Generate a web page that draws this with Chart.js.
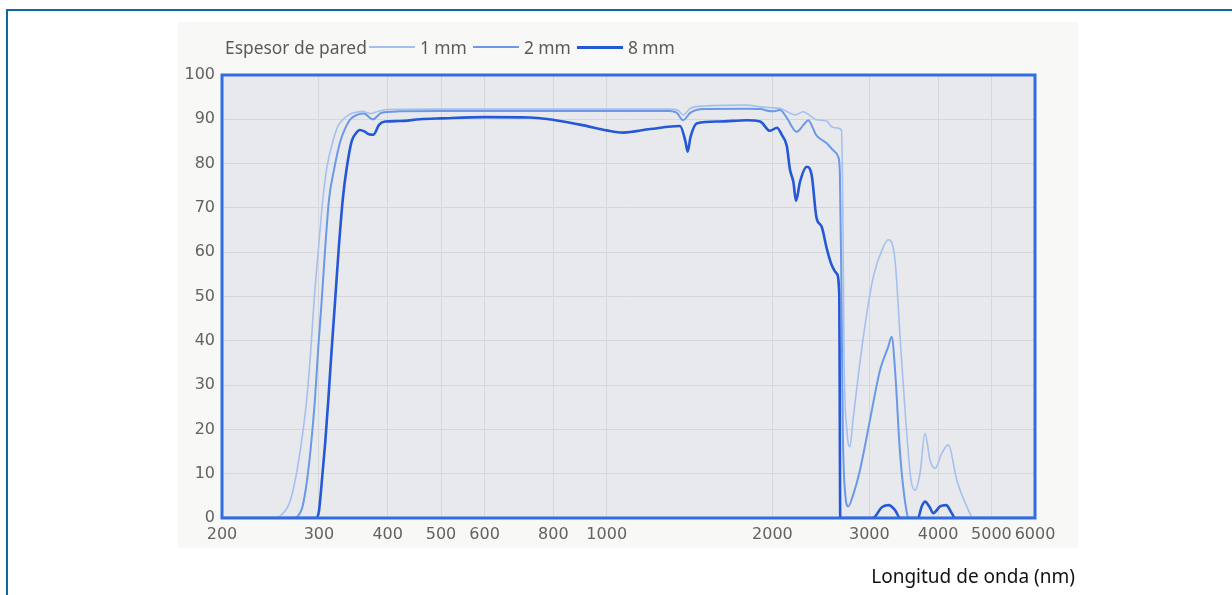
<!DOCTYPE html>
<html>
<head>
<meta charset="utf-8">
<script src="https://cdn.jsdelivr.net/npm/chart.js@4/dist/chart.umd.min.js"></script>
<style>
  html, body { margin:0; padding:0; background:#fff; }
  body { width:1232px; height:595px; position:relative; overflow:hidden; }
  #frame { position:absolute; left:6px; top:9px; width:1400px; height:800px;
           border-top:2px solid #0b6a99; border-left:2px solid #0b6a99; }
  #img { position:absolute; left:178px; top:22px; width:900px; height:526px; background:#f8f8f7; }
  #c { position:absolute; left:0; top:0; }
  #legend { position:absolute; left:225px; top:36px; height:22px; display:flex; align-items:center;
            font-family:"Noto Sans", sans-serif; font-size:17.4px; color:#5a5a5a; white-space:nowrap; }
  #legend .sw { display:inline-block; width:46px; margin:0 5px 0 2px; }
  #legend .lab { margin-right:4px; }
  #xtitle { position:absolute; right:157px; top:563px; font-family:"Noto Sans", sans-serif;
            font-size:19px; color:#111; white-space:nowrap; }
</style>
</head>
<body>
<div id="frame"></div>
<div id="img"></div>
<canvas id="c" width="1232" height="595"></canvas>
<div id="legend"></div>
<div id="xtitle">Longitud de onda (nm)</div>
<script>
// ---- data ----
const seriesLabels = ["1 mm", "2 mm", "8 mm"];
const legendTitle = "Espesor de pared";
const xTitle = "Longitud de onda (nm)";
const xTickValues = [200, 300, 400, 500, 600, 800, 1000, 2000, 3000, 4000, 5000, 6000];

const wl1 = [200, 245, 255, 265, 271, 278, 285, 290, 294, 300, 305, 310, 318, 325, 332, 340, 346, 360, 372, 385, 400, 500, 700, 1000, 1300, 1350, 1376, 1420, 1500, 1800, 1900, 2000, 2065, 2150, 2200, 2276, 2330, 2406, 2510, 2563, 2635, 2670, 2685, 2700, 2730, 2767, 2802, 2926, 3051, 3181, 3248, 3341, 3412, 3494, 3571, 3631, 3709, 3787, 3867, 3949, 4062, 4176, 4325, 4511, 4635, 6000];
const t1  = [0, 0, 0.5, 3.3, 7.9, 16, 26.6, 38, 49, 62, 72, 79, 85, 88.5, 90, 91, 91.4, 91.8, 91.3, 91.8, 92.2, 92.3, 92.3, 92.3, 92.3, 92, 91, 92.5, 93, 93.2, 92.8, 92.6, 92.5, 91.4, 91, 91.7, 91, 89.9, 89.6, 88.3, 88, 87.5, 70, 35, 20, 16.1, 22.1, 40.9, 54.5, 61.2, 62.8, 58.2, 40.9, 22.1, 8.6, 6.3, 10.1, 19.1, 13.1, 11.2, 14.6, 16.5, 8.6, 2.6, 0, 0];

const wl2 = [200, 270, 275, 280, 285, 290, 295, 299, 303.5, 308, 313, 320, 328, 335, 342, 352, 362, 376, 390, 420, 500, 1000, 1300, 1340, 1376, 1420, 1500, 1800, 1900, 2000, 2065, 2120, 2214, 2280, 2324, 2370, 2400, 2470, 2510, 2580, 2635, 2652, 2668, 2685, 2710, 2747, 2800, 2885, 3008, 3138, 3248, 3294, 3341, 3412, 3510, 3540, 6000];
const t2  = [0, 0, 0.5, 2.5, 7.9, 16, 26.6, 38, 49, 61, 72, 79, 85, 88, 90, 91, 91.3, 90, 91.5, 91.8, 91.9, 91.9, 91.9, 91.5, 89.8, 91.5, 92.3, 92.4, 92.3, 91.8, 92.1, 90.5, 87.2, 88.8, 89.8, 88, 86.5, 85.2, 84.6, 83, 81.5, 78, 55, 20, 6, 2.6, 5, 10.8, 22.1, 33.4, 38.7, 40.9, 33.4, 14.6, 1.1, 0, 0];

const wl8 = [200, 297, 300, 303.5, 308, 312, 316, 321, 326, 331.5, 337, 344, 350, 356, 363.6, 370, 376.5, 386, 395.6, 420, 458, 500, 600, 725, 894, 1000, 1071, 1200, 1359, 1390, 1403, 1420, 1459, 1600, 1798, 1900, 1980, 2039, 2080, 2124, 2153, 2183, 2208, 2245, 2308, 2357, 2406, 2457, 2510, 2563, 2617, 2646, 2652, 2656, 3040, 3072, 3159, 3248, 3341, 3412, 3677, 3735, 3787, 3860, 3921, 4033, 4136, 4235, 4294, 6000];
const t8  = [0, 0, 1.5, 7.9, 17, 26.6, 37, 49, 61, 72, 79, 85, 86.8, 87.6, 87.2, 86.6, 86.5, 88.8, 89.5, 89.6, 90, 90.2, 90.5, 90.4, 88.8, 87.5, 87, 87.8, 88.5, 85, 82.7, 86, 89.1, 89.5, 89.8, 89.5, 87.4, 88.1, 86.5, 84, 78.6, 75.9, 71.6, 75.9, 79.3, 77.4, 67.7, 65.8, 60.9, 57.1, 55.2, 50.3, 20, 0, 0, 0.3, 2.4, 2.9, 1.8, 0, 0, 2.6, 3.7, 2.5, 1.1, 2.6, 2.9, 1.1, 0, 0];

// ---- styles ----
const colors = ["#a5c0f0", "#6b98e7", "#2558d6"];
const widths = [1.6, 2, 2.6];
const legendWidths = [2, 2, 3];
const plotBg = "#e8e9ec";
const gridCol = "#d6d7da";
const frameBlue = "#326ce2";
const tickFont = { family: "DejaVu Sans", size: 16 };
const tickCol = "#626262";

const toPts = (xs, ys) => xs.map((x, i) => ({ x: x, y: ys[i] }));
const seriesData = [toPts(wl1, t1), toPts(wl2, t2), toPts(wl8, t8)];

// legend (HTML text)
const lg = document.getElementById('legend');
const tt = document.createElement('span'); tt.textContent = legendTitle; lg.appendChild(tt);
seriesLabels.forEach((lab, i) => {
  const sw = document.createElement('span'); sw.className = 'sw';
  sw.style.height = legendWidths[i] + 'px'; sw.style.background = colors[i]; lg.appendChild(sw);
  const s = document.createElement('span'); s.className = 'lab'; s.textContent = lab; lg.appendChild(s);
});
document.getElementById('xtitle').textContent = xTitle;

const bgPlugin = {
  id: 'bgPlugin',
  beforeDraw(chart) {
    const { ctx, chartArea: a } = chart;
    ctx.save(); ctx.fillStyle = plotBg; ctx.fillRect(a.left, a.top, a.right - a.left, a.bottom - a.top); ctx.restore();
  },
  afterDraw(chart) {
    const { ctx, chartArea: a } = chart;
    ctx.save(); ctx.strokeStyle = frameBlue; ctx.lineWidth = 3;
    ctx.strokeRect(a.left, a.top, a.right - a.left, a.bottom - a.top); ctx.restore();
  }
};

new Chart(document.getElementById('c'), {
  type: 'line',
  data: {
    datasets: seriesData.map((d, i) => ({
      label: seriesLabels[i], data: d, borderColor: colors[i], borderWidth: widths[i],
      pointRadius: 0, fill: false, cubicInterpolationMode: 'monotone'
    }))
  },
  options: {
    responsive: false, animation: false, devicePixelRatio: 1,
    layout: { padding: { left: 150, top: 75, right: 197, bottom: 47 } },
    plugins: { legend: { display: false }, tooltip: { enabled: false } },
    scales: {
      x: {
        type: 'logarithmic', min: 200, max: 6000,
        afterBuildTicks: s => { s.ticks = xTickValues.map(v => ({ value: v })); },
        afterFit: s => { s.height = 30; },
        ticks: { callback: v => String(v), autoSkip: false, maxRotation: 0, padding: 7, color: tickCol, font: tickFont },
        grid: { color: gridCol, drawTicks: false },
        border: { display: false }
      },
      y: {
        min: 0, max: 100,
        afterFit: s => { s.width = 72; },
        ticks: { stepSize: 10, padding: 7, color: tickCol, font: tickFont },
        grid: { color: gridCol, drawTicks: false },
        border: { display: false }
      }
    }
  },
  plugins: [bgPlugin]
});
</script>
</body>
</html>
